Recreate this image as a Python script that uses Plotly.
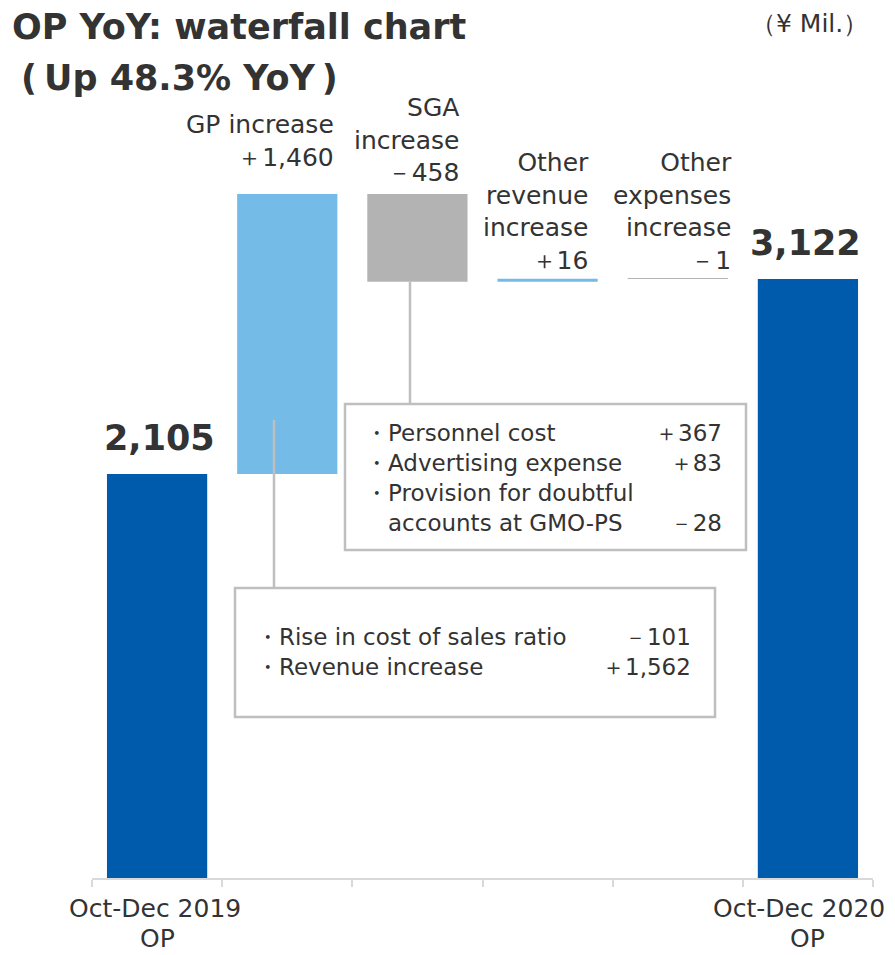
import plotly.graph_objects as go
import numpy as np

# ---- data ----
categories = ["Oct-Dec 2019 OP", "GP increase", "SGA increase",
              "Other revenue increase", "Other expenses increase", "Oct-Dec 2020 OP"]
values = [2105, 1460, -458, 16, -1, 3122]
measures = ["absolute", "relative", "relative", "relative", "relative", "total"]
axis_label_top = ["Oct-Dec 2019", "", "", "", "", "Oct-Dec 2020"]
axis_label_bottom = ["OP", "", "", "", "", "OP"]
bar_labels = ["2,105", "GP increase<br>＋1,460", "SGA<br>increase<br>－458",
              "Other<br>revenue<br>increase<br>＋16", "Other<br>expenses<br>increase<br>－1", "3,122"]
sga_items = ["・Personnel cost", "・Advertising expense", "・Provision for doubtful", "　accounts at GMO-PS"]
sga_values = ["＋367", "＋83", "", "－28"]
gp_items = ["・Rise in cost of sales ratio", "・Revenue increase"]
gp_values = ["－101", "＋1,562"]

# ---- geometry (page has an 8px body margin) ----
OFF = 8
W, H = 895 - OFF, 955 - OFF
L, R, T, B = 84, 22, 92, 77
PW, PH = W - L - R, H - T - B
YMAX = PH / 0.1919

def px(x):
    return (x - OFF - L) / PW

def py(y):
    return 1 - (y - OFF - T) / PH

TXT = "#333333"
FONT = "DejaVu Sans"

# bar tops from cumulative data
tops = []
run = 0
for v, m in zip(values, measures):
    if m == "absolute":
        start, run = 0, v
    elif m == "total":
        start = 0
    else:
        start, run = run, run + v
    tops.append(max(start, run))

fig = go.Figure(go.Waterfall(
    x=categories, y=values, measure=measures, width=0.77,
    increasing=dict(marker=dict(color="#74BBE8")),
    decreasing=dict(marker=dict(color="#B3B3B3")),
    totals=dict(marker=dict(color="#005BAC")),
    connector=dict(visible=False), hoverinfo="skip",
))

ann = []
xshifts = [2, 49, 44, 43, 56, -2]
yshifts = [14, 20, 5, 2, 2, 14]
for i, (c, lab, top) in enumerate(zip(categories, bar_labels, tops)):
    total = i in (0, len(categories) - 1)
    ann.append(dict(
        x=c, y=top, xref="x", yref="y", text=f"<b>{lab}</b>" if total else lab,
        showarrow=False, xanchor="center" if total else "right",
        align="right", yanchor="bottom", xshift=xshifts[i], yshift=yshifts[i],
        font=dict(family=FONT, size=35 if total else 25, color=TXT),
    ))

# category labels under the axis (first centred; last kept inside the page edge)
AXFONT = dict(family=FONT, size=25, color=TXT)
for i, (c, t1, t2) in enumerate(zip(categories, axis_label_top, axis_label_bottom)):
    if not t1:
        continue
    last = i == len(categories) - 1
    ann.append(dict(x=c, y=py(908), xref="x", yref="paper", text=t1, showarrow=False,
                    xanchor="right" if last else "center", xshift=79 if last else -2,
                    yanchor="middle", font=AXFONT))
    ann.append(dict(x=c, y=py(938), xref="x", yref="paper", text=t2, showarrow=False,
                    xanchor="center", yanchor="middle", font=AXFONT))

# titles
ann.append(dict(x=px(10), y=py(5), xref="paper", yref="paper", xanchor="left", yanchor="top",
                text="<b>OP YoY: waterfall chart</b>", showarrow=False,
                font=dict(family=FONT, size=35, color=TXT)))
ann.append(dict(x=px(19), y=py(56), xref="paper", yref="paper", xanchor="left", yanchor="top",
                text="<b>(\u2009Up 48.3% YoY\u2009)</b>", showarrow=False,
                font=dict(family=FONT, size=35, color=TXT)))
ann.append(dict(x=px(870), y=py(7), xref="paper", yref="paper", xanchor="right", yanchor="top",
                text="（¥ Mil.）", showarrow=False,
                font=dict(family=FONT, size=25, color=TXT)))

# callout text
BOXFONT = dict(family=FONT, size=23, color=TXT)
ann.append(dict(x=px(363), y=py(418), xref="paper", yref="paper", xanchor="left", yanchor="top",
                text="<br>".join(sga_items), align="left", showarrow=False, font=BOXFONT))
ann.append(dict(x=px(724), y=py(418), xref="paper", yref="paper", xanchor="right", yanchor="top",
                text="<br>".join(sga_values), align="right", showarrow=False, font=BOXFONT))
ann.append(dict(x=px(254), y=py(622), xref="paper", yref="paper", xanchor="left", yanchor="top",
                text="<br>".join(gp_items), align="left", showarrow=False, font=BOXFONT))
ann.append(dict(x=px(693), y=py(622), xref="paper", yref="paper", xanchor="right", yanchor="top",
                text="<br>".join(gp_values), align="right", showarrow=False, font=BOXFONT))

BOX = dict(color="#BFBFBF", width=2.5)
shapes = [
    dict(type="rect", xref="paper", yref="paper", x0=px(345), x1=px(746), y0=py(404), y1=py(550),
         line=BOX, fillcolor="white", layer="above"),
    dict(type="line", xref="paper", yref="paper", x0=px(410), x1=px(410), y0=py(282), y1=py(404),
         line=BOX, layer="above"),
    dict(type="rect", xref="paper", yref="paper", x0=px(235), x1=px(715), y0=py(588), y1=py(717),
         line=BOX, fillcolor="white", layer="above"),
    dict(type="line", xref="paper", yref="paper", x0=px(274), x1=px(274), y0=py(420), y1=py(588),
         line=BOX, layer="above"),
]

fig.update_layout(
    width=W, height=H, margin=dict(l=L, r=R, t=T, b=B, autoexpand=False),
    paper_bgcolor="white", plot_bgcolor="white", showlegend=False,
    annotations=ann, shapes=shapes,
    xaxis=dict(type="category", showticklabels=False, range=[-0.5, len(categories) - 0.5],
               tickson="boundaries", ticks="outside", ticklen=7, tickcolor="#D9D9D9", tickwidth=1.5,
               automargin=False, showline=True, linecolor="#D9D9D9", linewidth=1.5,
               showgrid=False, fixedrange=True),
    yaxis=dict(visible=False, range=[0, YMAX], fixedrange=True, automargin=False),
)

fig.write_html("out.html")
